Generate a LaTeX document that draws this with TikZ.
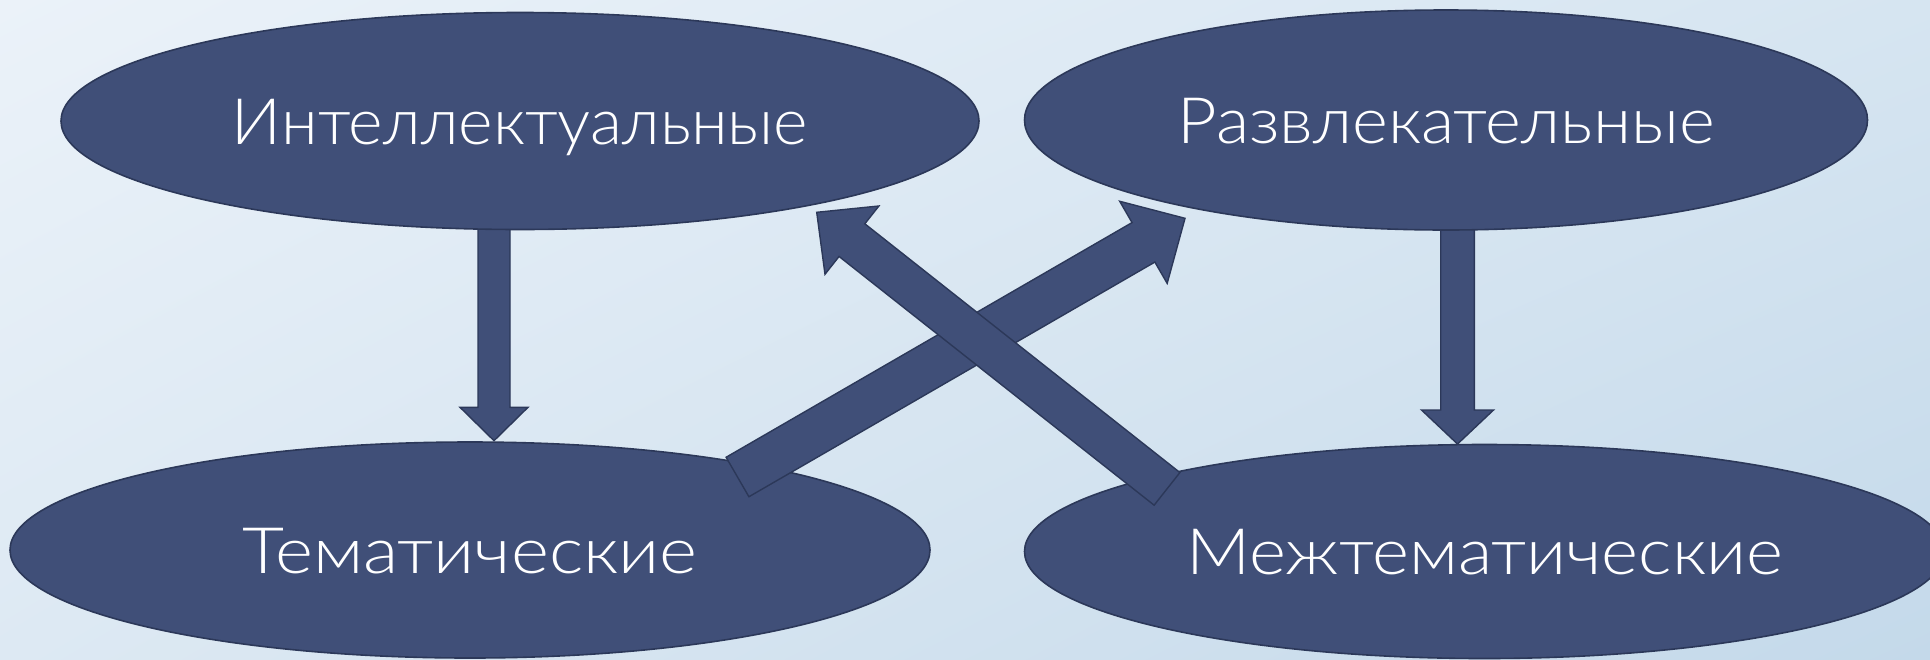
\documentclass[tikz,border=0pt]{standalone}
\usepackage{fontspec}
\setmainfont{Lato Light}
\usetikzlibrary{shapes.geometric,calc,shadings}
\definecolor{bgUL}{HTML}{EBF2F9}
\definecolor{bgUR}{HTML}{D6E5F1}
\definecolor{bgLL}{HTML}{DDE9F3}
\definecolor{bgLR}{HTML}{C4D9EA}
\definecolor{fillc}{HTML}{404F78}
\definecolor{edgec}{HTML}{2C3859}
\tikzset{
  ell/.style={ellipse, draw=edgec, line width=0.8pt, fill=fillc, inner sep=0pt,
    text=white, font=\fontsize{32}{38}\selectfont, text height=23pt, text depth=0pt},
  blk/.style={fill=fillc, draw=edgec, line width=0.7pt, line join=miter}
}
\newcommand\blkarrow[5]{%
  \coordinate (ba-h) at ($(#2)!#5!(#1)$);
  \filldraw[blk] ($(#1)!#3!90:(#2)$) -- ($(ba-h)!#3!90:(#2)$) -- ($(ba-h)!#4!90:(#2)$)
    -- (#2) -- ($(ba-h)!#4!-90:(#2)$) -- ($(ba-h)!#3!-90:(#2)$) -- ($(#1)!#3!-90:(#2)$) -- cycle;
}
\begin{document}
\begin{tikzpicture}[x=0.5pt,y=-0.5pt]
\useasboundingbox (0,0) rectangle (1930,659);
\clip (0,0) rectangle (1930,659);
\shade[upper left=bgUL, upper right=bgUR, lower left=bgLL, lower right=bgLR] (0,0) rectangle (1930,659);
% coordinates for the vertical arrows
\coordinate (va1) at (494,200);
\coordinate (vb1) at (494,440.7);
\coordinate (va2) at (1457.5,200);
\coordinate (vb2) at (1457.5,444);
\blkarrow{va1}{vb1}{8pt}{17pt}{16.7pt}
\blkarrow{va2}{vb2}{8.4pt}{18pt}{17pt}
% ellipses
\node[ell, minimum width=459pt, minimum height=108.5pt] (intel) at (520,121)
  {\resizebox{288pt}{\height}{Интеллектуальные}};
\node[ell, minimum width=421.5pt, minimum height=110pt] (razv) at (1446,120)
  {\resizebox{268.5pt}{\height}{Развлекательные}};
\node[ell, minimum width=460pt, minimum height=108pt] (tema) at (470,550)
  {\resizebox{227.5pt}{\height}{Тематические}};
\node[ell, minimum width=460pt, minimum height=107pt] (mezh) at (1484.5,551.5)
  {\resizebox{298.5pt}{\height}{Межтематические}};
% diagonal arrows
\coordinate (da1) at (737.5,477);
\coordinate (db1) at (1185,218.3);
\coordinate (da2) at (1167,488.85);
\coordinate (db2) at (816.7,212.3);
\blkarrow{da1}{db1}{11.4pt}{23.7pt}{24pt}
\blkarrow{da2}{db2}{10.4pt}{21.75pt}{22.45pt}
\end{tikzpicture}
\end{document}
